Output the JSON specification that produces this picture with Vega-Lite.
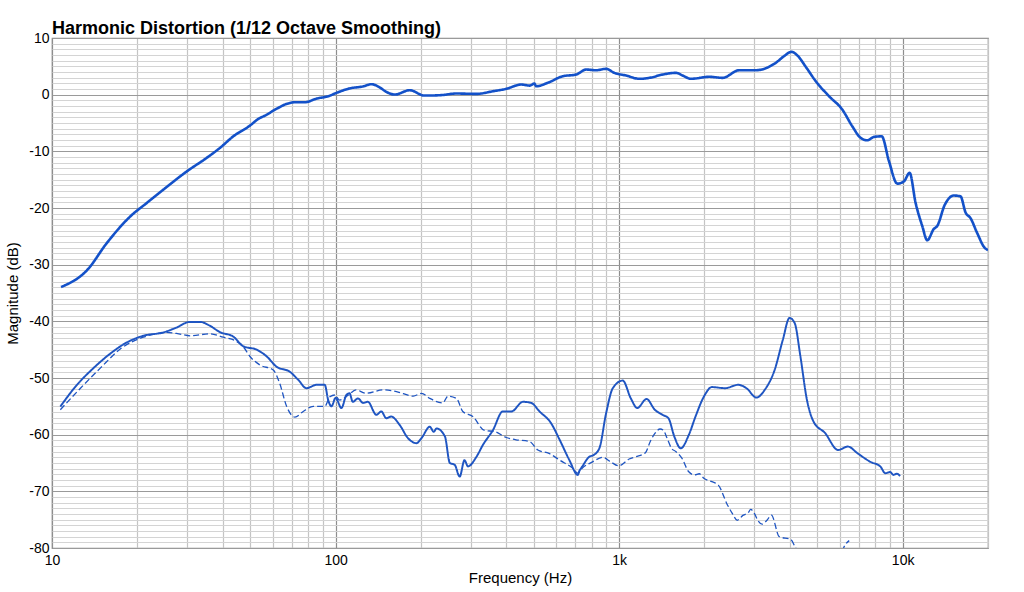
{
  "$schema": "https://vega.github.io/schema/vega-lite/v6.json",
  "width": 936,
  "height": 510,
  "autosize": {"type": "none"},
  "padding": {"left": 52, "top": 38, "right": 36, "bottom": 44},
  "background": "white",
  "title": {
    "text": "Harmonic Distortion (1/12 Octave Smoothing)",
    "anchor": "start",
    "frame": "group",
    "fontSize": 18,
    "fontWeight": "bold",
    "font": "Liberation Sans",
    "color": "black",
    "offset": -7
  },
  "config": {
    "font": "Liberation Sans",
    "view": {"stroke": "#8a8a8a", "strokeWidth": 1.2}
  },
  "data": {
    "values": [
      {"series": "Fundamental", "seg": 1, "freq": 10.76, "db": -33.95},
      {"series": "Fundamental", "seg": 1, "freq": 13.28, "db": -31.0},
      {"series": "Fundamental", "seg": 1, "freq": 15.6, "db": -26.2},
      {"series": "Fundamental", "seg": 1, "freq": 18.87, "db": -21.5},
      {"series": "Fundamental", "seg": 1, "freq": 21.6, "db": -19.1},
      {"series": "Fundamental", "seg": 1, "freq": 24.7, "db": -16.76},
      {"series": "Fundamental", "seg": 1, "freq": 29.9, "db": -13.53},
      {"series": "Fundamental", "seg": 1, "freq": 35.1, "db": -11.16},
      {"series": "Fundamental", "seg": 1, "freq": 39.1, "db": -9.4},
      {"series": "Fundamental", "seg": 1, "freq": 43.6, "db": -7.35},
      {"series": "Fundamental", "seg": 1, "freq": 49.9, "db": -5.46},
      {"series": "Fundamental", "seg": 1, "freq": 53.4, "db": -4.28},
      {"series": "Fundamental", "seg": 1, "freq": 56.4, "db": -3.69},
      {"series": "Fundamental", "seg": 1, "freq": 61.9, "db": -2.5},
      {"series": "Fundamental", "seg": 1, "freq": 67.2, "db": -1.63},
      {"series": "Fundamental", "seg": 1, "freq": 71.9, "db": -1.34},
      {"series": "Fundamental", "seg": 1, "freq": 78, "db": -1.34},
      {"series": "Fundamental", "seg": 1, "freq": 85.7, "db": -0.69},
      {"series": "Fundamental", "seg": 1, "freq": 94.2, "db": -0.28},
      {"series": "Fundamental", "seg": 1, "freq": 100.8, "db": 0.32},
      {"series": "Fundamental", "seg": 1, "freq": 112, "db": 1.1},
      {"series": "Fundamental", "seg": 1, "freq": 125, "db": 1.45},
      {"series": "Fundamental", "seg": 1, "freq": 133.9, "db": 1.85},
      {"series": "Fundamental", "seg": 1, "freq": 143, "db": 1.3},
      {"series": "Fundamental", "seg": 1, "freq": 151, "db": 0.5},
      {"series": "Fundamental", "seg": 1, "freq": 161.8, "db": 0.02},
      {"series": "Fundamental", "seg": 1, "freq": 182.6, "db": 0.78},
      {"series": "Fundamental", "seg": 1, "freq": 206, "db": -0.16},
      {"series": "Fundamental", "seg": 1, "freq": 233, "db": -0.1},
      {"series": "Fundamental", "seg": 1, "freq": 267, "db": 0.2},
      {"series": "Fundamental", "seg": 1, "freq": 314, "db": 0.14},
      {"series": "Fundamental", "seg": 1, "freq": 359, "db": 0.6},
      {"series": "Fundamental", "seg": 1, "freq": 400, "db": 1.03},
      {"series": "Fundamental", "seg": 1, "freq": 452, "db": 1.79},
      {"series": "Fundamental", "seg": 1, "freq": 483, "db": 1.6},
      {"series": "Fundamental", "seg": 1, "freq": 503, "db": 1.96},
      {"series": "Fundamental", "seg": 1, "freq": 510, "db": 1.49},
      {"series": "Fundamental", "seg": 1, "freq": 561, "db": 2.1},
      {"series": "Fundamental", "seg": 1, "freq": 632, "db": 3.25},
      {"series": "Fundamental", "seg": 1, "freq": 706, "db": 3.55},
      {"series": "Fundamental", "seg": 1, "freq": 765, "db": 4.43},
      {"series": "Fundamental", "seg": 1, "freq": 830, "db": 4.31},
      {"series": "Fundamental", "seg": 1, "freq": 900, "db": 4.56},
      {"series": "Fundamental", "seg": 1, "freq": 962, "db": 3.85},
      {"series": "Fundamental", "seg": 1, "freq": 1058, "db": 3.38},
      {"series": "Fundamental", "seg": 1, "freq": 1179, "db": 2.8},
      {"series": "Fundamental", "seg": 1, "freq": 1279, "db": 2.97},
      {"series": "Fundamental", "seg": 1, "freq": 1424, "db": 3.55},
      {"series": "Fundamental", "seg": 1, "freq": 1588, "db": 3.85},
      {"series": "Fundamental", "seg": 1, "freq": 1675, "db": 3.38},
      {"series": "Fundamental", "seg": 1, "freq": 1793, "db": 2.8},
      {"series": "Fundamental", "seg": 1, "freq": 2081, "db": 3.15},
      {"series": "Fundamental", "seg": 1, "freq": 2318, "db": 2.97},
      {"series": "Fundamental", "seg": 1, "freq": 2652, "db": 4.31},
      {"series": "Fundamental", "seg": 1, "freq": 3035, "db": 4.31},
      {"series": "Fundamental", "seg": 1, "freq": 3570, "db": 5.62},
      {"series": "Fundamental", "seg": 1, "freq": 3818, "db": 6.8},
      {"series": "Fundamental", "seg": 1, "freq": 4053, "db": 7.56},
      {"series": "Fundamental", "seg": 1, "freq": 4256, "db": 6.9},
      {"series": "Fundamental", "seg": 1, "freq": 4556, "db": 4.9},
      {"series": "Fundamental", "seg": 1, "freq": 4940, "db": 2.37},
      {"series": "Fundamental", "seg": 1, "freq": 5503, "db": -0.28},
      {"series": "Fundamental", "seg": 1, "freq": 6125, "db": -2.63},
      {"series": "Fundamental", "seg": 1, "freq": 6644, "db": -5.58},
      {"series": "Fundamental", "seg": 1, "freq": 7112, "db": -7.63},
      {"series": "Fundamental", "seg": 1, "freq": 7506, "db": -8.05},
      {"series": "Fundamental", "seg": 1, "freq": 7929, "db": -7.45},
      {"series": "Fundamental", "seg": 1, "freq": 8433, "db": -7.35},
      {"series": "Fundamental", "seg": 1, "freq": 8951, "db": -11.76},
      {"series": "Fundamental", "seg": 1, "freq": 9575, "db": -15.7},
      {"series": "Fundamental", "seg": 1, "freq": 10107, "db": -15.3},
      {"series": "Fundamental", "seg": 1, "freq": 10582, "db": -13.8},
      {"series": "Fundamental", "seg": 1, "freq": 11110, "db": -19.1},
      {"series": "Fundamental", "seg": 1, "freq": 11730, "db": -23.2},
      {"series": "Fundamental", "seg": 1, "freq": 12210, "db": -25.7},
      {"series": "Fundamental", "seg": 1, "freq": 12880, "db": -23.7},
      {"series": "Fundamental", "seg": 1, "freq": 13230, "db": -23.2},
      {"series": "Fundamental", "seg": 1, "freq": 14090, "db": -19.4},
      {"series": "Fundamental", "seg": 1, "freq": 15160, "db": -17.8},
      {"series": "Fundamental", "seg": 1, "freq": 16000, "db": -17.95},
      {"series": "Fundamental", "seg": 1, "freq": 16670, "db": -20.8},
      {"series": "Fundamental", "seg": 1, "freq": 17360, "db": -21.8},
      {"series": "Fundamental", "seg": 1, "freq": 18310, "db": -24.4},
      {"series": "Fundamental", "seg": 1, "freq": 19500, "db": -27.06},
      {"series": "Fundamental", "seg": 1, "freq": 20000, "db": -27.4},

      {"series": "2nd", "seg": 1, "freq": 10.7, "db": -55.04},
      {"series": "2nd", "seg": 1, "freq": 12.25, "db": -51.2},
      {"series": "2nd", "seg": 1, "freq": 14.0, "db": -48.26},
      {"series": "2nd", "seg": 1, "freq": 16.05, "db": -45.7},
      {"series": "2nd", "seg": 1, "freq": 18.4, "db": -43.7},
      {"series": "2nd", "seg": 1, "freq": 21.0, "db": -42.55},
      {"series": "2nd", "seg": 1, "freq": 24.7, "db": -41.96},
      {"series": "2nd", "seg": 1, "freq": 27.2, "db": -41.2},
      {"series": "2nd", "seg": 1, "freq": 30.7, "db": -40.1},
      {"series": "2nd", "seg": 1, "freq": 33.3, "db": -40.1},
      {"series": "2nd", "seg": 1, "freq": 36.1, "db": -40.8},
      {"series": "2nd", "seg": 1, "freq": 39.1, "db": -41.9},
      {"series": "2nd", "seg": 1, "freq": 43.6, "db": -42.7},
      {"series": "2nd", "seg": 1, "freq": 47.3, "db": -44.4},
      {"series": "2nd", "seg": 1, "freq": 52.7, "db": -45.0},
      {"series": "2nd", "seg": 1, "freq": 57.2, "db": -46.2},
      {"series": "2nd", "seg": 1, "freq": 61.9, "db": -48.0},
      {"series": "2nd", "seg": 1, "freq": 69.0, "db": -48.9},
      {"series": "2nd", "seg": 1, "freq": 73.8, "db": -50.3},
      {"series": "2nd", "seg": 1, "freq": 79.0, "db": -51.8},
      {"series": "2nd", "seg": 1, "freq": 85.7, "db": -51.2},
      {"series": "2nd", "seg": 1, "freq": 91.6, "db": -51.2},
      {"series": "2nd", "seg": 1, "freq": 94.2, "db": -53.9},
      {"series": "2nd", "seg": 1, "freq": 96.8, "db": -55.0},
      {"series": "2nd", "seg": 1, "freq": 100, "db": -53.5},
      {"series": "2nd", "seg": 1, "freq": 104.9, "db": -55.3},
      {"series": "2nd", "seg": 1, "freq": 109.2, "db": -53.0},
      {"series": "2nd", "seg": 1, "freq": 112, "db": -52.7},
      {"series": "2nd", "seg": 1, "freq": 115, "db": -54.2},
      {"series": "2nd", "seg": 1, "freq": 120, "db": -53.6},
      {"series": "2nd", "seg": 1, "freq": 125, "db": -54.4},
      {"series": "2nd", "seg": 1, "freq": 130, "db": -54.2},
      {"series": "2nd", "seg": 1, "freq": 139.3, "db": -56.5},
      {"series": "2nd", "seg": 1, "freq": 145, "db": -55.9},
      {"series": "2nd", "seg": 1, "freq": 151, "db": -57.1},
      {"series": "2nd", "seg": 1, "freq": 157, "db": -56.8},
      {"series": "2nd", "seg": 1, "freq": 168.4, "db": -58.3},
      {"series": "2nd", "seg": 1, "freq": 180, "db": -60.6},
      {"series": "2nd", "seg": 1, "freq": 193, "db": -61.5},
      {"series": "2nd", "seg": 1, "freq": 201, "db": -60.6},
      {"series": "2nd", "seg": 1, "freq": 215, "db": -58.6},
      {"series": "2nd", "seg": 1, "freq": 222, "db": -59.5},
      {"series": "2nd", "seg": 1, "freq": 227, "db": -58.9},
      {"series": "2nd", "seg": 1, "freq": 243, "db": -60.3},
      {"series": "2nd", "seg": 1, "freq": 253, "db": -65.0},
      {"series": "2nd", "seg": 1, "freq": 263, "db": -65.3},
      {"series": "2nd", "seg": 1, "freq": 274, "db": -67.4},
      {"series": "2nd", "seg": 1, "freq": 285, "db": -64.5},
      {"series": "2nd", "seg": 1, "freq": 293, "db": -65.6},
      {"series": "2nd", "seg": 1, "freq": 314, "db": -63.9},
      {"series": "2nd", "seg": 1, "freq": 331, "db": -61.8},
      {"series": "2nd", "seg": 1, "freq": 359, "db": -59.2},
      {"series": "2nd", "seg": 1, "freq": 389, "db": -55.9},
      {"series": "2nd", "seg": 1, "freq": 417, "db": -55.9},
      {"series": "2nd", "seg": 1, "freq": 458, "db": -54.2},
      {"series": "2nd", "seg": 1, "freq": 490, "db": -54.4},
      {"series": "2nd", "seg": 1, "freq": 524, "db": -55.9},
      {"series": "2nd", "seg": 1, "freq": 576, "db": -58.0},
      {"series": "2nd", "seg": 1, "freq": 617, "db": -60.9},
      {"series": "2nd", "seg": 1, "freq": 668, "db": -64.5},
      {"series": "2nd", "seg": 1, "freq": 715, "db": -67.1},
      {"series": "2nd", "seg": 1, "freq": 723, "db": -66.5},
      {"series": "2nd", "seg": 1, "freq": 742, "db": -65.6},
      {"series": "2nd", "seg": 1, "freq": 785, "db": -63.9},
      {"series": "2nd", "seg": 1, "freq": 813, "db": -63.6},
      {"series": "2nd", "seg": 1, "freq": 852, "db": -62.4},
      {"series": "2nd", "seg": 1, "freq": 900, "db": -56.2},
      {"series": "2nd", "seg": 1, "freq": 950, "db": -51.8},
      {"series": "2nd", "seg": 1, "freq": 1030, "db": -50.45},
      {"series": "2nd", "seg": 1, "freq": 1100, "db": -53.6},
      {"series": "2nd", "seg": 1, "freq": 1159, "db": -55.3},
      {"series": "2nd", "seg": 1, "freq": 1250, "db": -53.7},
      {"series": "2nd", "seg": 1, "freq": 1336, "db": -55.6},
      {"series": "2nd", "seg": 1, "freq": 1424, "db": -56.5},
      {"series": "2nd", "seg": 1, "freq": 1493, "db": -57.1},
      {"series": "2nd", "seg": 1, "freq": 1565, "db": -60.3},
      {"series": "2nd", "seg": 1, "freq": 1650, "db": -62.4},
      {"series": "2nd", "seg": 1, "freq": 1763, "db": -60.0},
      {"series": "2nd", "seg": 1, "freq": 1860, "db": -56.8},
      {"series": "2nd", "seg": 1, "freq": 1990, "db": -53.3},
      {"series": "2nd", "seg": 1, "freq": 2124, "db": -51.6},
      {"series": "2nd", "seg": 1, "freq": 2362, "db": -51.8},
      {"series": "2nd", "seg": 1, "freq": 2631, "db": -51.2},
      {"series": "2nd", "seg": 1, "freq": 2812, "db": -51.8},
      {"series": "2nd", "seg": 1, "freq": 3052, "db": -53.45},
      {"series": "2nd", "seg": 1, "freq": 3262, "db": -52.1},
      {"series": "2nd", "seg": 1, "freq": 3535, "db": -48.6},
      {"series": "2nd", "seg": 1, "freq": 3778, "db": -43.3},
      {"series": "2nd", "seg": 1, "freq": 3990, "db": -39.4},
      {"series": "2nd", "seg": 1, "freq": 4161, "db": -40.3},
      {"series": "2nd", "seg": 1, "freq": 4360, "db": -46.2},
      {"series": "2nd", "seg": 1, "freq": 4598, "db": -53.9},
      {"series": "2nd", "seg": 1, "freq": 4851, "db": -57.7},
      {"series": "2nd", "seg": 1, "freq": 5323, "db": -59.7},
      {"series": "2nd", "seg": 1, "freq": 5918, "db": -62.7},
      {"series": "2nd", "seg": 1, "freq": 6410, "db": -62.1},
      {"series": "2nd", "seg": 1, "freq": 6938, "db": -63.3},
      {"series": "2nd", "seg": 1, "freq": 7698, "db": -64.8},
      {"series": "2nd", "seg": 1, "freq": 8340, "db": -65.6},
      {"series": "2nd", "seg": 1, "freq": 8684, "db": -66.8},
      {"series": "2nd", "seg": 1, "freq": 9040, "db": -66.6},
      {"series": "2nd", "seg": 1, "freq": 9280, "db": -67.1},
      {"series": "2nd", "seg": 1, "freq": 9530, "db": -66.9},
      {"series": "2nd", "seg": 1, "freq": 9800, "db": -67.3},

      {"series": "3rd", "seg": 1, "freq": 10.7, "db": -55.6},
      {"series": "3rd", "seg": 1, "freq": 12.6, "db": -51.8},
      {"series": "3rd", "seg": 1, "freq": 14.8, "db": -48.26},
      {"series": "3rd", "seg": 1, "freq": 17.6, "db": -44.7},
      {"series": "3rd", "seg": 1, "freq": 21.0, "db": -42.8},
      {"series": "3rd", "seg": 1, "freq": 25.4, "db": -41.96},
      {"series": "3rd", "seg": 1, "freq": 28.0, "db": -42.2},
      {"series": "3rd", "seg": 1, "freq": 30.7, "db": -42.55},
      {"series": "3rd", "seg": 1, "freq": 36.1, "db": -42.2},
      {"series": "3rd", "seg": 1, "freq": 40.2, "db": -42.8},
      {"series": "3rd", "seg": 1, "freq": 44.8, "db": -43.56},
      {"series": "3rd", "seg": 1, "freq": 47.3, "db": -44.5},
      {"series": "3rd", "seg": 1, "freq": 49.9, "db": -46.2},
      {"series": "3rd", "seg": 1, "freq": 54.1, "db": -47.7},
      {"series": "3rd", "seg": 1, "freq": 60.3, "db": -48.6},
      {"series": "3rd", "seg": 1, "freq": 63.5, "db": -50.9},
      {"series": "3rd", "seg": 1, "freq": 67.2, "db": -55.0},
      {"series": "3rd", "seg": 1, "freq": 71.9, "db": -56.9},
      {"series": "3rd", "seg": 1, "freq": 76.9, "db": -55.9},
      {"series": "3rd", "seg": 1, "freq": 83.4, "db": -55.0},
      {"series": "3rd", "seg": 1, "freq": 91.6, "db": -55.0},
      {"series": "3rd", "seg": 1, "freq": 95.5, "db": -53.3},
      {"series": "3rd", "seg": 1, "freq": 99.5, "db": -53.0},
      {"series": "3rd", "seg": 1, "freq": 103.4, "db": -53.9},
      {"series": "3rd", "seg": 1, "freq": 111, "db": -53.0},
      {"series": "3rd", "seg": 1, "freq": 118, "db": -52.1},
      {"series": "3rd", "seg": 1, "freq": 128, "db": -52.7},
      {"series": "3rd", "seg": 1, "freq": 147, "db": -52.1},
      {"series": "3rd", "seg": 1, "freq": 164, "db": -52.4},
      {"series": "3rd", "seg": 1, "freq": 188, "db": -53.2},
      {"series": "3rd", "seg": 1, "freq": 201, "db": -52.7},
      {"series": "3rd", "seg": 1, "freq": 215, "db": -53.6},
      {"series": "3rd", "seg": 1, "freq": 239, "db": -54.4},
      {"series": "3rd", "seg": 1, "freq": 249, "db": -53.2},
      {"series": "3rd", "seg": 1, "freq": 267, "db": -53.6},
      {"series": "3rd", "seg": 1, "freq": 281, "db": -55.9},
      {"series": "3rd", "seg": 1, "freq": 305, "db": -56.8},
      {"series": "3rd", "seg": 1, "freq": 334, "db": -59.2},
      {"series": "3rd", "seg": 1, "freq": 366, "db": -59.5},
      {"series": "3rd", "seg": 1, "freq": 400, "db": -60.5},
      {"series": "3rd", "seg": 1, "freq": 433, "db": -60.9},
      {"series": "3rd", "seg": 1, "freq": 483, "db": -61.2},
      {"series": "3rd", "seg": 1, "freq": 517, "db": -62.7},
      {"series": "3rd", "seg": 1, "freq": 566, "db": -63.3},
      {"series": "3rd", "seg": 1, "freq": 617, "db": -64.5},
      {"series": "3rd", "seg": 1, "freq": 685, "db": -65.9},
      {"series": "3rd", "seg": 1, "freq": 715, "db": -66.8},
      {"series": "3rd", "seg": 1, "freq": 742, "db": -65.9},
      {"series": "3rd", "seg": 1, "freq": 806, "db": -64.8},
      {"series": "3rd", "seg": 1, "freq": 875, "db": -64.0},
      {"series": "3rd", "seg": 1, "freq": 934, "db": -64.8},
      {"series": "3rd", "seg": 1, "freq": 997, "db": -65.5},
      {"series": "3rd", "seg": 1, "freq": 1085, "db": -64.3},
      {"series": "3rd", "seg": 1, "freq": 1145, "db": -63.9},
      {"series": "3rd", "seg": 1, "freq": 1238, "db": -63.2},
      {"series": "3rd", "seg": 1, "freq": 1288, "db": -61.2},
      {"series": "3rd", "seg": 1, "freq": 1328, "db": -60.0},
      {"series": "3rd", "seg": 1, "freq": 1395, "db": -59.0},
      {"series": "3rd", "seg": 1, "freq": 1432, "db": -59.2},
      {"series": "3rd", "seg": 1, "freq": 1476, "db": -60.6},
      {"series": "3rd", "seg": 1, "freq": 1530, "db": -62.4},
      {"series": "3rd", "seg": 1, "freq": 1588, "db": -63.0},
      {"series": "3rd", "seg": 1, "freq": 1667, "db": -64.2},
      {"series": "3rd", "seg": 1, "freq": 1757, "db": -66.5},
      {"series": "3rd", "seg": 1, "freq": 1846, "db": -67.1},
      {"series": "3rd", "seg": 1, "freq": 1918, "db": -66.9},
      {"series": "3rd", "seg": 1, "freq": 1990, "db": -67.7},
      {"series": "3rd", "seg": 1, "freq": 2124, "db": -68.3},
      {"series": "3rd", "seg": 1, "freq": 2238, "db": -68.9},
      {"series": "3rd", "seg": 1, "freq": 2411, "db": -72.4},
      {"series": "3rd", "seg": 1, "freq": 2507, "db": -73.9},
      {"series": "3rd", "seg": 1, "freq": 2610, "db": -75.1},
      {"series": "3rd", "seg": 1, "freq": 2741, "db": -74.2},
      {"series": "3rd", "seg": 1, "freq": 2852, "db": -73.8},
      {"series": "3rd", "seg": 1, "freq": 2912, "db": -73.2},
      {"series": "3rd", "seg": 1, "freq": 3000, "db": -73.9},
      {"series": "3rd", "seg": 1, "freq": 3082, "db": -75.1},
      {"series": "3rd", "seg": 1, "freq": 3195, "db": -75.8},
      {"series": "3rd", "seg": 1, "freq": 3323, "db": -75.1},
      {"series": "3rd", "seg": 1, "freq": 3444, "db": -74.2},
      {"series": "3rd", "seg": 1, "freq": 3673, "db": -78.0},
      {"series": "3rd", "seg": 1, "freq": 4034, "db": -78.5},
      {"series": "3rd", "seg": 1, "freq": 4184, "db": -79.9},
      {"series": "3rd", "seg": 1, "freq": 4260, "db": -80.6},
      {"series": "3rd", "seg": 2, "freq": 6120, "db": -80.6},
      {"series": "3rd", "seg": 2, "freq": 6200, "db": -79.9},
      {"series": "3rd", "seg": 2, "freq": 6480, "db": -78.7}
    ]
  },
  "mark": {"type": "line", "clip": true, "interpolate": "monotone"},
  "encoding": {
    "x": {
      "field": "freq",
      "type": "quantitative",
      "title": "Frequency (Hz)",
      "scale": {"type": "log", "domain": [10, 20000], "nice": false},
      "axis": {
        "values": [10, 20, 30, 40, 50, 60, 70, 80, 90, 100, 200, 300, 400, 500, 600, 700, 800, 900, 1000, 2000, 3000, 4000, 5000, 6000, 7000, 8000, 9000, 10000, 20000],
        "labelExpr": "datum.value == 10 ? '10' : datum.value == 100 ? '100' : datum.value == 1000 ? '1k' : datum.value == 10000 ? '10k' : ''",
        "labelOverlap": false,
        "labelFlush": false,
        "labelFontSize": 14,
        "labelColor": "black",
        "labelPadding": 5,
        "ticks": false,
        "domain": false,
        "grid": true,
        "gridColor": {"condition": {"test": "datum.value == 10 || datum.value == 100 || datum.value == 1000 || datum.value == 10000", "value": "#8e8e8e"}, "value": "#c4c4c4"},
        "gridWidth": 1.2,
        "titleFontSize": 15,
        "titleFontWeight": "normal",
        "titleColor": "black",
        "titlePadding": 3
      }
    },
    "y": {
      "field": "db",
      "type": "quantitative",
      "title": "Magnitude (dB)",
      "scale": {"domain": [-80, 10], "nice": false},
      "axis": {
        "values": [-80, -79, -78, -77, -76, -75, -74, -73, -72, -71, -70, -69, -68, -67, -66, -65, -64, -63, -62, -61, -60, -59, -58, -57, -56, -55, -54, -53, -52, -51, -50, -49, -48, -47, -46, -45, -44, -43, -42, -41, -40, -39, -38, -37, -36, -35, -34, -33, -32, -31, -30, -29, -28, -27, -26, -25, -24, -23, -22, -21, -20, -19, -18, -17, -16, -15, -14, -13, -12, -11, -10, -9, -8, -7, -6, -5, -4, -3, -2, -1, 0, 1, 2, 3, 4, 5, 6, 7, 8, 9, 10],
        "labelExpr": "datum.value % 10 === 0 ? '' + datum.value : ''",
        "labelOverlap": false,
        "labelFlush": false,
        "labelFontSize": 14,
        "labelColor": "black",
        "labelPadding": 3,
        "ticks": false,
        "domain": false,
        "grid": true,
        "gridColor": {"condition": {"test": "datum.value % 10 === 0", "value": "#9a9a9a"}, "value": "#d4d4d4"},
        "gridWidth": 1.2,
        "titleFontSize": 15,
        "titleFontWeight": "normal",
        "titleColor": "black",
        "titlePadding": 8
      }
    },
    "color": {
      "field": "series",
      "type": "nominal",
      "scale": {"domain": ["Fundamental", "2nd", "3rd"], "range": ["#1351c9", "#1f55c2", "#1f55c2"]},
      "legend": null
    },
    "strokeWidth": {
      "field": "series",
      "type": "nominal",
      "scale": {"domain": ["Fundamental", "2nd", "3rd"], "range": [2.6, 1.3, 1.4]},
      "legend": null
    },
    "strokeDash": {
      "field": "series",
      "type": "nominal",
      "scale": {"domain": ["Fundamental", "2nd", "3rd"], "range": [[1, 0], [1, 0], [6, 3]]},
      "legend": null
    },
    "detail": {"field": "seg", "type": "nominal"}
  }
}
